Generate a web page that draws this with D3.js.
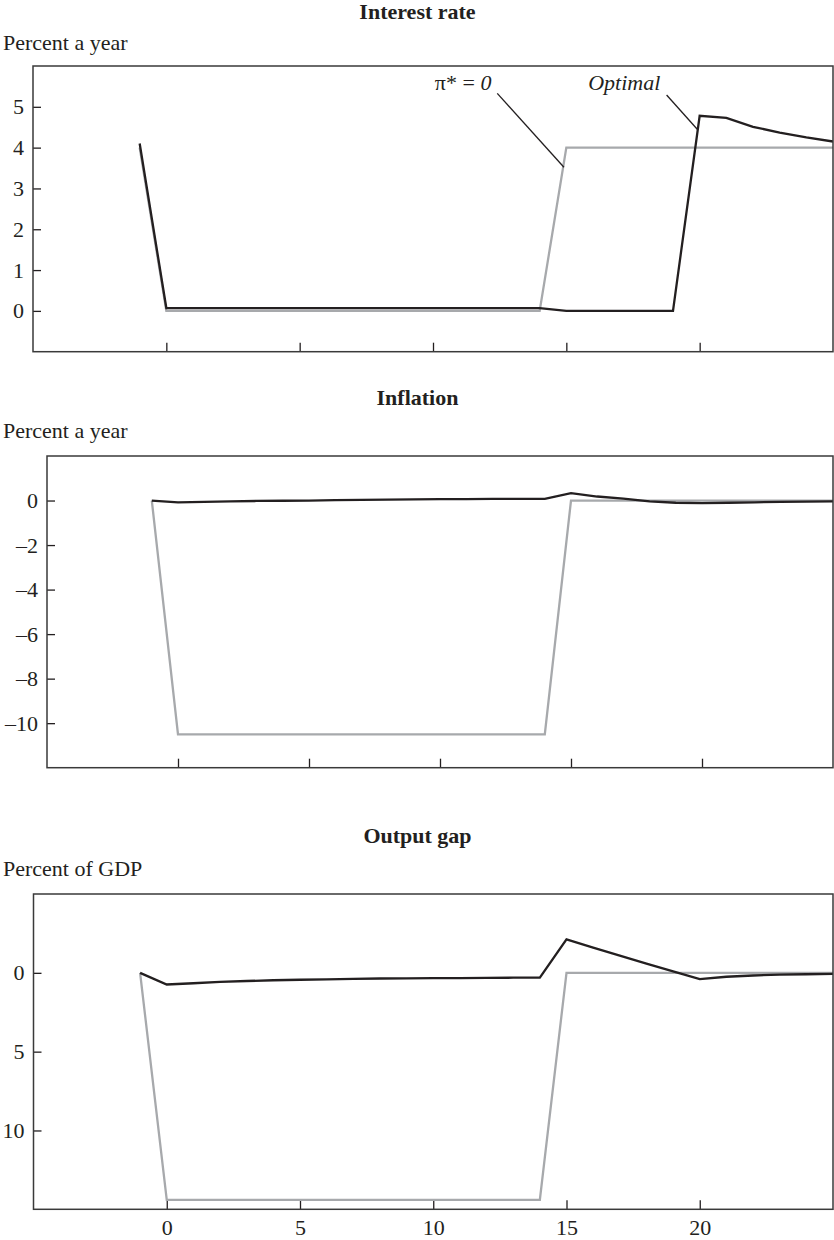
<!DOCTYPE html>
<html>
<head>
<meta charset="utf-8">
<script src="https://cdn.jsdelivr.net/npm/d3@7/dist/d3.min.js"></script>
<style>
  html, body { margin: 0; padding: 0; background: #fff; }
  svg { display: block; }
  text { font-family: "Liberation Serif", "Times New Roman", serif; fill: #231f20; }
</style>
</head>
<body>
<svg id="chart" width="834" height="1240"></svg>
<script>
// ---- data ----
const periods = [-1,0,1,2,3,4,5,6,7,8,9,10,11,12,13,14,15,16,17,18,19,20,21,22,23,24,25];

// Interest rate (percent a year)
const rateOptimal = [4.1,0.07,0.07,0.07,0.07,0.07,0.07,0.07,0.07,0.07,0.07,0.07,0.07,0.07,0.07,0.07,0,0,0,0,0,4.78,4.73,4.51,4.37,4.25,4.15];
const rateZeroTarget = [4.0,0,0,0,0,0,0,0,0,0,0,0,0,0,0,0,4.0,4.0,4.0,4.0,4.0,4.0,4.0,4.0,4.0,4.0,4.0];

// Inflation (percent a year)
const inflOptimal = [0,-0.08,-0.06,-0.04,-0.02,-0.01,0,0.02,0.03,0.04,0.05,0.06,0.06,0.07,0.07,0.07,0.33,0.18,0.09,-0.04,-0.1,-0.12,-0.1,-0.08,-0.06,-0.05,-0.04];
const inflZeroTarget = [0,-10.5,-10.5,-10.5,-10.5,-10.5,-10.5,-10.5,-10.5,-10.5,-10.5,-10.5,-10.5,-10.5,-10.5,-10.5,0,0,0,0,0,0,0,0,0,0,0];

// Output gap (percent of GDP, axis labelled increasing downward)
const gapOptimal = [0,0.74,0.66,0.58,0.52,0.47,0.44,0.41,0.38,0.36,0.35,0.34,0.33,0.32,0.31,0.3,-2.12,-1.6,-1.09,-0.59,-0.09,0.4,0.25,0.17,0.11,0.09,0.07];
const gapZeroTarget = [0,14.4,14.4,14.4,14.4,14.4,14.4,14.4,14.4,14.4,14.4,14.4,14.4,14.4,14.4,14.4,0,0,0,0,0,0,0,0,0,0,0];

const xTicks = [0,5,10,15,20];
const xTickLabels = ["0","5","10","15","20"];
const rateTicks = [0,1,2,3,4,5];
const rateTickLabels = ["0","1","2","3","4","5"];
const inflTicks = [0,-2,-4,-6,-8,-10];
const inflTickLabels = ["0","\u20132","\u20134","\u20136","\u20138","\u201310"];
const gapTicks = [0,5,10];
const gapTickLabels = ["0","5","10"];

const titles = ["Interest rate","Inflation","Output gap"];
const units = ["Percent a year","Percent a year","Percent of GDP"];

// ---- layout ----
const svg = d3.select("#chart");
const FS = 22;
const panels = [
  { left: 33, right: 833, top: 66, bottom: 351.7, titleY: 18.5, unitY: 49.5,
    yDomain: [-1, 6], yTicks: rateTicks, yLabels: rateTickLabels,
    opt: rateOptimal, zero: rateZeroTarget, showX: false, invert: false },
  { left: 47, right: 833, top: 456, bottom: 767.7, titleY: 405, unitY: 438,
    yDomain: [-12, 2], yTicks: inflTicks, yLabels: inflTickLabels,
    opt: inflOptimal, zero: inflZeroTarget, showX: false, invert: false },
  { left: 33.5, right: 833, top: 894, bottom: 1209.3, titleY: 843, unitY: 876,
    yDomain: [-5, 15], yTicks: gapTicks, yLabels: gapTickLabels,
    opt: gapOptimal, zero: gapZeroTarget, showX: true, invert: true }
];

const scales = [];
panels.forEach((p, i) => {
  const x = d3.scaleLinear().domain([-5, 25]).range([p.left, p.right]);
  const y = d3.scaleLinear().domain(p.yDomain)
    .range(p.invert ? [p.top, p.bottom] : [p.bottom, p.top]);
  scales.push({x, y});

  svg.append("text").attr("x", 417.5).attr("y", p.titleY)
    .attr("text-anchor", "middle").attr("font-weight", "bold")
    .attr("font-size", FS).text(titles[i]);
  svg.append("text").attr("x", 3).attr("y", p.unitY)
    .attr("font-size", FS).text(units[i]);

  const g = svg.append("g");
  const clipId = "clip" + i;
  svg.append("defs").append("clipPath").attr("id", clipId)
    .append("rect").attr("x", p.left).attr("y", p.top)
    .attr("width", p.right - p.left).attr("height", p.bottom - p.top);

  // y axis (ticks inward)
  const ya = g.append("g").attr("transform", `translate(${p.left},0)`)
    .call(d3.axisLeft(y).tickValues(p.yTicks).tickSize(-8).tickPadding(9)
      .tickFormat((d, k) => p.yLabels[k]));
  ya.select(".domain").remove();
  ya.selectAll(".tick line").attr("stroke", "#231f20").attr("stroke-width", 1.3);
  ya.selectAll(".tick text").attr("font-size", FS)
    .attr("font-family", '"Liberation Serif", serif').attr("fill", "#231f20");

  // x axis (ticks inward)
  const xa = g.append("g").attr("transform", `translate(0,${p.bottom})`)
    .call(d3.axisBottom(x).tickValues(xTicks).tickSize(-9).tickPadding(10)
      .tickFormat((d, k) => p.showX ? xTickLabels[k] : ""));
  xa.select(".domain").remove();
  xa.selectAll(".tick line").attr("stroke", "#231f20").attr("stroke-width", 1.3);
  xa.selectAll(".tick text").attr("font-size", FS)
    .attr("font-family", '"Liberation Serif", serif').attr("fill", "#231f20");

  const line = d3.line().x((d, k) => x(periods[k])).y(d => y(d));
  const lg = g.append("g").attr("clip-path", `url(#${clipId})`);
  lg.append("path").datum(p.zero).attr("d", line)
    .attr("fill", "none").attr("stroke", "#a7a9ac").attr("stroke-width", 2.3)
    .attr("stroke-linejoin", "miter");
  lg.append("path").datum(p.opt).attr("d", line)
    .attr("fill", "none").attr("stroke", "#231f20").attr("stroke-width", 2.3)
    .attr("stroke-linejoin", "miter");

  // frame
  g.append("rect").attr("x", p.left).attr("y", p.top)
    .attr("width", p.right - p.left).attr("height", p.bottom - p.top)
    .attr("fill", "none").attr("stroke", "#3a3a3a").attr("stroke-width", 1.5);
});

// ---- annotations on the interest-rate panel ----
const s0 = scales[0];
const ann = svg.append("g");
const t1 = ann.append("text").attr("x", s0.x(10.07)).attr("y", s0.y(5.41)).attr("font-size", FS);
t1.append("tspan").text("\u03c0* = ");
t1.append("tspan").attr("font-style", "italic").text("0");
ann.append("line")
  .attr("x1", s0.x(12.41)).attr("y1", s0.y(5.33))
  .attr("x2", s0.x(14.91)).attr("y2", s0.y(3.52))
  .attr("stroke", "#231f20").attr("stroke-width", 1.3);
ann.append("text").attr("x", s0.x(15.82)).attr("y", s0.y(5.41))
  .attr("font-size", FS).attr("font-style", "italic").text("Optimal");
ann.append("line")
  .attr("x1", s0.x(18.76)).attr("y1", s0.y(5.29))
  .attr("x2", s0.x(19.91)).attr("y2", s0.y(4.45))
  .attr("stroke", "#231f20").attr("stroke-width", 1.3);
</script>
</body>
</html>
